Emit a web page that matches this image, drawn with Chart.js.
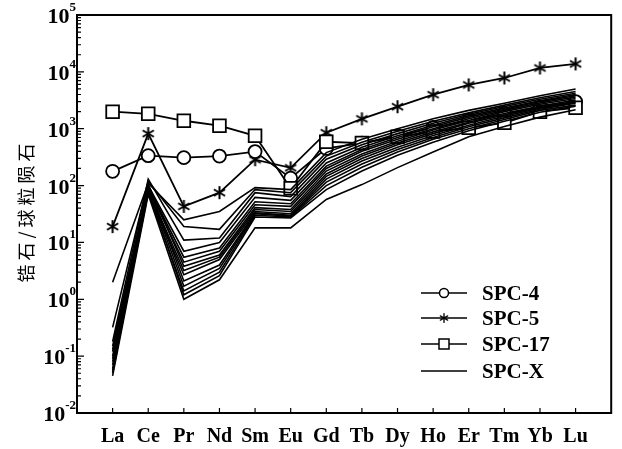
<!DOCTYPE html>
<html>
<head>
<meta charset="utf-8">
<script src="https://cdn.jsdelivr.net/npm/chart.js@4/dist/chart.umd.min.js"></script>
<style>
  body { margin: 0; background: #fff; }
</style>
</head>
<body>
<canvas id="myChart" width="622" height="449"></canvas>
<script>
// REE pattern, chondrite normalised
var elements = ['La', 'Ce', 'Pr', 'Nd', 'Sm', 'Eu', 'Gd', 'Tb', 'Dy', 'Ho', 'Er', 'Tm', 'Yb', 'Lu'];
var yExponents = [-2, -1, 0, 1, 2, 3, 4, 5];
var spc4 = [178, 336, 310, 330, 396, 135, 450, 560, 750, 1050, 1400, 1850, 2400, 3000];
var spc5 = [19, 820, 43, 75, 285, 205, 850, 1490, 2440, 3960, 5900, 7800, 11700, 13800];
var spc17 = [1990, 1830, 1380, 1130, 750, 90, 590, 560, 720, 890, 1040, 1270, 1990, 2330];
var spcX = [
  [2.0, 110, 25, 35, 92, 85, 380, 650, 1000, 1500, 2100, 2800, 3800, 5000],
  [0.32, 120, 19, 17, 85, 75, 330, 580, 900, 1350, 1900, 2600, 3500, 4500],
  [0.18, 130, 11, 12, 75, 64, 290, 520, 820, 1250, 1800, 2450, 3300, 4200],
  [0.15, 100, 7, 10, 62, 55, 250, 470, 750, 1150, 1700, 2300, 3100, 4000],
  [0.13, 95, 5.5, 8, 52, 48, 220, 430, 700, 1080, 1600, 2200, 3000, 3800],
  [0.12, 90, 4.5, 7, 46, 43, 200, 400, 650, 1000, 1500, 2100, 2850, 3600],
  [0.1, 105, 3.8, 6, 41, 38, 180, 360, 600, 950, 1400, 2000, 2700, 3400],
  [0.09, 85, 3.2, 5.5, 38, 35, 160, 330, 560, 880, 1300, 1850, 2500, 3200],
  [0.08, 80, 2.7, 5, 35, 32, 145, 300, 520, 820, 1250, 1750, 2400, 3000],
  [0.07, 100, 2.1, 4, 33, 30, 130, 270, 470, 760, 1150, 1650, 2300, 2900],
  [0.06, 90, 1.7, 3.5, 32, 29, 115, 240, 430, 700, 1080, 1550, 2200, 2800],
  [0.055, 75, 1.4, 3, 30, 28, 100, 210, 390, 650, 1000, 1450, 2100, 2600],
  [0.05, 85, 1.2, 2.6, 28, 27, 85, 180, 340, 580, 920, 1350, 1950, 2500],
  [0.045, 70, 1.0, 2.2, 18, 18, 57, 104, 207, 390, 720, 1090, 1600, 2150]
];

function toPoints(arr) {
  return arr.map(function (v, i) { return { x: i + 1, y: v }; });
}

// six-armed asterisk marker
function makeStar(size) {
  var c = document.createElement('canvas');
  c.width = size;
  c.height = size;
  var g = c.getContext('2d');
  g.strokeStyle = '#000';
  g.lineWidth = 2;
  var r = size / 2 - 1;
  g.beginPath();
  for (var k = 0; k < 3; k++) {
    var a = Math.PI / 2 + k * Math.PI / 3;
    g.moveTo(size / 2 + r * Math.cos(a), size / 2 + r * Math.sin(a));
    g.lineTo(size / 2 - r * Math.cos(a), size / 2 - r * Math.sin(a));
  }
  g.stroke();
  return c;
}
var star = makeStar(15);

var datasets = [];
spcX.forEach(function (row) {
  datasets.push({
    label: 'SPC-X',
    data: toPoints(row),
    borderColor: '#000',
    borderWidth: 1.6,
    pointRadius: 0,
    order: 0
  });
});
datasets.push({
  label: 'SPC-17', data: toPoints(spc17), borderColor: '#000', borderWidth: 1.8,
  pointStyle: 'rect', pointRadius: 9, pointBorderWidth: 1.8, pointBackgroundColor: '#fff', order: 1
});
datasets.push({
  label: 'SPC-4', data: toPoints(spc4), borderColor: '#000', borderWidth: 1.8,
  pointStyle: 'circle', pointRadius: 6.5, pointBorderWidth: 1.8, pointBackgroundColor: '#fff', order: 1
});
datasets.push({
  label: 'SPC-5', data: toPoints(spc5), borderColor: '#000', borderWidth: 1.8,
  pointStyle: star, pointRadius: 7, order: 1
});

var serif = '"Liberation Serif", "Times New Roman", serif';

var decorations = {
  id: 'decorations',
  afterDraw: function (chart) {
    var ctx = chart.ctx;
    var a = chart.chartArea;
    var xs = chart.scales.x;
    var ys = chart.scales.y;
    ctx.save();
    ctx.strokeStyle = '#000';
    ctx.fillStyle = '#000';

    // frame
    ctx.lineWidth = 2;
    ctx.strokeRect(a.left, a.top, a.right - a.left, a.bottom - a.top);

    // inward ticks
    ctx.lineWidth = 1.2;
    ctx.beginPath();
    yExponents.forEach(function (n) {
      var y = ys.getPixelForValue(Math.pow(10, n));
      ctx.moveTo(a.left, y);
      ctx.lineTo(a.left + 7, y);
      if (n < 5) {
        for (var m = 2; m <= 9; m++) {
          var ym = ys.getPixelForValue(m * Math.pow(10, n));
          ctx.moveTo(a.left, ym);
          ctx.lineTo(a.left + 4, ym);
        }
      }
    });
    elements.forEach(function (e, i) {
      var x = xs.getPixelForValue(i + 1);
      ctx.moveTo(x, a.bottom);
      ctx.lineTo(x, a.bottom - 5);
    });
    ctx.stroke();

    // y tick labels 10^n
    ctx.textAlign = 'right';
    ctx.textBaseline = 'alphabetic';
    yExponents.forEach(function (n) {
      var y = ys.getPixelForValue(Math.pow(10, n));
      var exp = n < 0 ? '-' + Math.abs(n) : String(n);
      ctx.font = 'bold 13px ' + serif;
      var w = ctx.measureText(exp).width;
      ctx.fillText(exp, 76, y - 4);
      ctx.font = 'bold 22px ' + serif;
      ctx.fillText('10', 76 - w, y + 8);
    });

    // y title, rotated, with letter spacing
    var title = ['锆', '石', '/', '球', '粒', '陨', '石'];
    ctx.font = '18px "Noto Sans CJK SC"';
    var gap = 4;
    var total = 0;
    title.forEach(function (ch) { total += ctx.measureText(ch).width + gap; });
    total -= gap;
    ctx.translate(26, 213);
    ctx.rotate(-Math.PI / 2);
    ctx.textAlign = 'left';
    ctx.textBaseline = 'middle';
    var pos = -total / 2;
    title.forEach(function (ch) {
      ctx.fillText(ch, pos, 0);
      pos += ctx.measureText(ch).width + gap;
    });
    ctx.setTransform(1, 0, 0, 1, 0, 0);

    // legend
    var rows = [
      { text: 'SPC-4', y: 293, mark: 'circle' },
      { text: 'SPC-5', y: 318, mark: 'star' },
      { text: 'SPC-17', y: 344, mark: 'rect' },
      { text: 'SPC-X', y: 371, mark: null }
    ];
    rows.forEach(function (r) {
      ctx.lineWidth = 1.5;
      ctx.beginPath();
      ctx.moveTo(421, r.y);
      ctx.lineTo(467, r.y);
      ctx.stroke();
      var cx = 444;
      if (r.mark === 'circle') {
        ctx.beginPath();
        ctx.arc(cx, r.y, 4.5, 0, Math.PI * 2);
        ctx.fillStyle = '#fff';
        ctx.fill();
        ctx.stroke();
      } else if (r.mark === 'rect') {
        ctx.fillStyle = '#fff';
        ctx.fillRect(cx - 5, r.y - 5, 10, 10);
        ctx.strokeRect(cx - 5, r.y - 5, 10, 10);
      } else if (r.mark === 'star') {
        ctx.drawImage(star, cx - 5.5, r.y - 5.5, 11, 11);
      }
      ctx.fillStyle = '#000';
      ctx.font = 'bold 21px ' + serif;
      ctx.textAlign = 'left';
      ctx.textBaseline = 'alphabetic';
      ctx.fillText(r.text, 482, r.y + 7);
    });
    ctx.restore();
  }
};

const ctx = document.getElementById('myChart');

new Chart(ctx, {
  type: 'line',
  data: { datasets: datasets },
  options: {
    responsive: false,
    animation: false,
    layout: { padding: { top: 15, right: 10, left: 0, bottom: 0 } },
    elements: { line: { tension: 0 } },
    plugins: { legend: { display: false }, tooltip: { enabled: false } },
    scales: {
      x: {
        type: 'linear',
        min: 0,
        max: 15,
        afterBuildTicks: function (s) {
          s.ticks = elements.map(function (e, i) { return { value: i + 1 }; });
        },
        afterFit: function (s) { s.height = 36; },
        ticks: {
          autoSkip: false,
          maxRotation: 0,
          padding: 12,
          color: '#000',
          font: { family: serif, size: 20, weight: 'bold' },
          callback: function (v) { return elements[v - 1]; }
        },
        grid: { display: false, drawTicks: false },
        border: { display: false }
      },
      y: {
        type: 'logarithmic',
        min: 0.01,
        max: 100000,
        afterFit: function (s) { s.width = 77; },
        ticks: { display: false },
        grid: { display: false, drawTicks: false },
        border: { display: false }
      }
    }
  },
  plugins: [decorations]
});
</script>
</body>
</html>
